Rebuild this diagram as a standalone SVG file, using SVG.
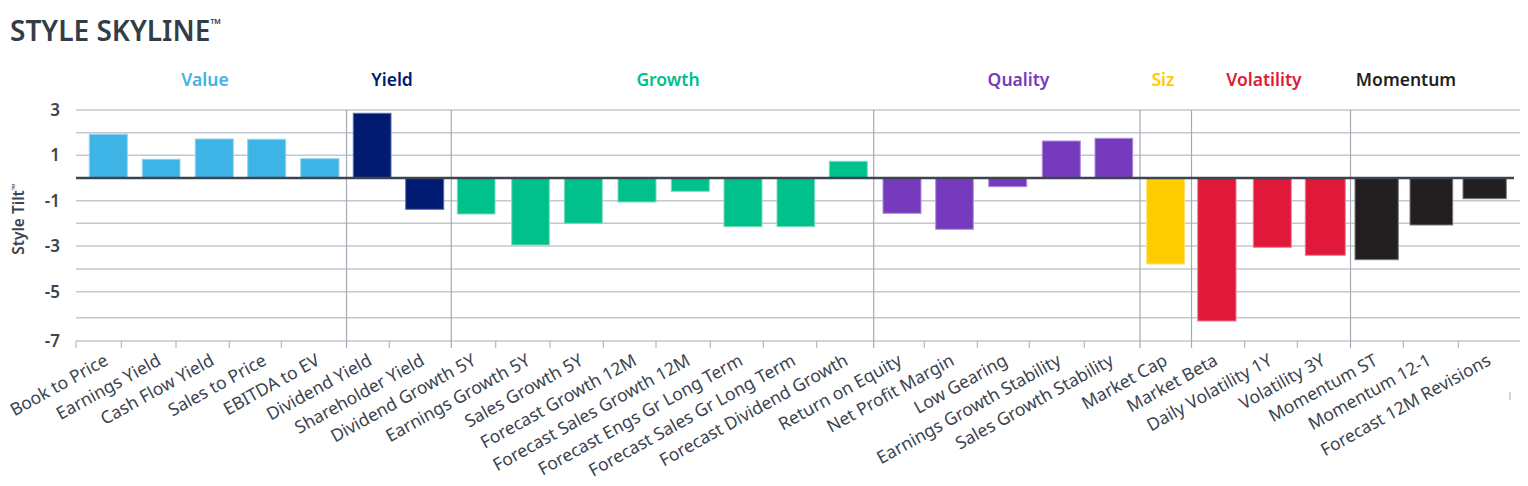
<svg xmlns="http://www.w3.org/2000/svg" width="1528" height="486" viewBox="0 0 1528 486">
<style>
text{font-family:"Noto Sans","Liberation Sans",sans-serif}
.title{font-size:28px;font-weight:600;fill:#333d48}
.head{font-size:17.5px;font-weight:600;text-anchor:middle}
.tick{font-size:17px;font-weight:600;fill:#3b4450;text-anchor:end}
.ylab{font-size:15.5px;font-weight:600;fill:#3b4450;text-anchor:middle}
.lab{font-size:17.5px;fill:#3b4450;text-anchor:end}
.grid{stroke:#c3c8d0;stroke-width:1.4}
.div{stroke:#a3aab4;stroke-width:1.2}
.tk{stroke:#b3b9c2;stroke-width:1.2}
.v{fill:#3db4e5;stroke:#8dd2f0;stroke-width:1}
.y{fill:#001b71;stroke:#5a6aa5;stroke-width:1}
.g{fill:#00c08b;stroke:#7ddcc0;stroke-width:1}
.q{fill:#763bbd;stroke:#b08de0;stroke-width:1}
.s{fill:#ffcc00;stroke:#ffe27a;stroke-width:1}
.r{fill:#e0193a;stroke:#f07d8f;stroke-width:1}
.m{fill:#231f20;stroke:#7c7a7b;stroke-width:1}
</style>
<rect width="1528" height="486" fill="#fff"/>
<text class="title" x="10" y="41">STYLE SKYLINE<tspan font-size="14" dy="-12">™</tspan></text>

<g id="headings">
<text class="head" x="205" y="86" fill="#3db4e5">Value</text>
<text class="head" x="392" y="86" fill="#001b71">Yield</text>
<text class="head" x="668" y="86" fill="#00c08b">Growth</text>
<text class="head" x="1018.5" y="86" fill="#763bbd">Quality</text>
<text class="head" x="1163" y="86" fill="#ffcc00">Siz</text>
<text class="head" x="1264" y="86" fill="#e0193a">Volatility</text>
<text class="head" x="1406" y="86" fill="#231f20">Momentum</text>
</g>

<g id="axis-y">
<text class="ylab" transform="translate(24,219) rotate(-90)">Style Tilt<tspan font-size="9" dy="-6">™</tspan></text>
<text class="tick" x="60" y="116">3</text>
<text class="tick" x="60" y="161.3">1</text>
<text class="tick" x="60" y="206.7">-1</text>
<text class="tick" x="60" y="252">-3</text>
<text class="tick" x="60" y="297.7">-5</text>
<text class="tick" x="60" y="347">-7</text>
</g>

<g id="grid">
<line class="grid" x1="76" y1="110" x2="1520" y2="110"/>
<line class="grid" x1="76" y1="132.7" x2="1520" y2="132.7"/>
<line class="grid" x1="76" y1="155.3" x2="1520" y2="155.3"/>
<line class="grid" x1="76" y1="200.7" x2="1520" y2="200.7"/>
<line class="grid" x1="76" y1="223.3" x2="1520" y2="223.3"/>
<line class="grid" x1="76" y1="246" x2="1520" y2="246"/>
<line class="grid" x1="76" y1="269" x2="1520" y2="269"/>
<line class="grid" x1="76" y1="291.7" x2="1520" y2="291.7"/>
<line class="grid" x1="76" y1="317.7" x2="1520" y2="317.7"/>
<line class="grid" x1="76" y1="341" x2="1520" y2="341"/>
<line class="div" x1="346.5" y1="110" x2="346.5" y2="348"/>
<line class="div" x1="451.3" y1="110" x2="451.3" y2="348"/>
<line class="div" x1="873.7" y1="110" x2="873.7" y2="348"/>
<line class="div" x1="1140" y1="110" x2="1140" y2="348"/>
<line class="div" x1="1191.5" y1="110" x2="1191.5" y2="348"/>
<line class="div" x1="1350.5" y1="110" x2="1350.5" y2="348"/>
<path class="tk" d="M76,341V348M121.3,341V348M176,341V348M229.3,341V348M281.3,341V348M389.3,341V348M495.7,341V348M550,341V348M603.3,341V348M656,341V348M710.3,341V348M763.3,341V348M816.7,341V348M924.3,341V348M977.3,341V348M1029.3,341V348M1084.3,341V348M1244.7,341V348M1297.3,341V348M1403.3,341V348M1458.3,341V348M1510,392V400"/>
</g>

<g id="bars">
<rect class="v" x="89.3" y="134.3" width="38" height="43.7"/>
<rect class="v" x="142.3" y="159.3" width="37.7" height="18.7"/>
<rect class="v" x="195.3" y="139" width="38" height="39"/>
<rect class="v" x="247.7" y="139.3" width="38" height="38.7"/>
<rect class="v" x="300.7" y="158.7" width="38.3" height="19.3"/>
<rect class="y" x="353.3" y="113.3" width="37.7" height="64.7"/>
<rect class="y" x="405.7" y="178" width="38" height="31.3"/>
<rect class="g" x="457.3" y="178" width="37.7" height="36"/>
<rect class="g" x="511.7" y="178" width="37.6" height="67"/>
<rect class="g" x="564.3" y="178" width="38" height="45.3"/>
<rect class="g" x="618" y="178" width="38" height="24"/>
<rect class="g" x="671.3" y="178" width="38" height="13.3"/>
<rect class="g" x="724" y="178" width="38" height="48.7"/>
<rect class="g" x="777" y="178" width="37.7" height="48.7"/>
<rect class="g" x="829.3" y="161.3" width="38" height="16.7"/>
<rect class="q" x="883" y="178" width="38" height="35.3"/>
<rect class="q" x="935.7" y="178" width="37.6" height="51.3"/>
<rect class="q" x="988.7" y="178" width="38" height="8.7"/>
<rect class="q" x="1042.3" y="141" width="38" height="37"/>
<rect class="q" x="1095" y="138.3" width="37.7" height="39.7"/>
<rect class="s" x="1146.7" y="178" width="38" height="86"/>
<rect class="r" x="1197.7" y="178" width="38.3" height="143"/>
<rect class="r" x="1253.3" y="178" width="38" height="69.3"/>
<rect class="r" x="1305.3" y="178" width="40" height="77.3"/>
<rect class="m" x="1355" y="178" width="43.3" height="81.7"/>
<rect class="m" x="1410" y="178" width="42.7" height="47"/>
<rect class="m" x="1463" y="178" width="43.3" height="20.7"/>
<line x1="76" y1="178" x2="1514" y2="178" stroke="#3c454f" stroke-width="2.6"/>
</g>

<g id="labels">
<text class="lab" transform="translate(109.3,364) rotate(-29)">Book to Price</text>
<text class="lab" transform="translate(162.2,364) rotate(-29)">Earnings Yield</text>
<text class="lab" transform="translate(215.3,364) rotate(-29)">Cash Flow Yield</text>
<text class="lab" transform="translate(267.7,364) rotate(-29)">Sales to Price</text>
<text class="lab" transform="translate(320.9,364) rotate(-29)">EBITDA to EV</text>
<text class="lab" transform="translate(373.2,364) rotate(-29)">Dividend Yield</text>
<text class="lab" transform="translate(425.7,364) rotate(-29)">Shareholder Yield</text>
<text class="lab" transform="translate(477.2,364) rotate(-29)">Dividend Growth 5Y</text>
<text class="lab" transform="translate(531.5,364) rotate(-29)">Earnings Growth 5Y</text>
<text class="lab" transform="translate(584.3,364) rotate(-29)">Sales Growth 5Y</text>
<text class="lab" transform="translate(638,364) rotate(-29)">Forecast Growth 12M</text>
<text class="lab" transform="translate(691.3,364) rotate(-29)">Forecast Sales Growth 12M</text>
<text class="lab" transform="translate(744,364) rotate(-29)">Forecast Engs Gr Long Term</text>
<text class="lab" transform="translate(796.9,364) rotate(-29)">Forecast Sales Gr Long Term</text>
<text class="lab" transform="translate(849.3,364) rotate(-29)">Forecast Dividend Growth</text>
<text class="lab" transform="translate(903,364) rotate(-29)">Return on Equity</text>
<text class="lab" transform="translate(955.5,364) rotate(-29)">Net Profit Margin</text>
<text class="lab" transform="translate(1008.7,364) rotate(-29)">Low Gearing</text>
<text class="lab" transform="translate(1062.3,364) rotate(-29)">Earnings Growth Stability</text>
<text class="lab" transform="translate(1114.9,364) rotate(-29)">Sales Growth Stability</text>
<text class="lab" transform="translate(1168.7,364) rotate(-29)">Market Cap</text>
<text class="lab" transform="translate(1218.9,364) rotate(-29)">Market Beta</text>
<text class="lab" transform="translate(1273.3,364) rotate(-29)">Daily Volatility 1Y</text>
<text class="lab" transform="translate(1326.3,364) rotate(-29)">Volatility 3Y</text>
<text class="lab" transform="translate(1378.7,364) rotate(-29)">Momentum ST</text>
<text class="lab" transform="translate(1432.4,364) rotate(-29)">Momentum 12-1</text>
<text class="lab" transform="translate(1492,364) rotate(-29)">Forecast 12M Revisions</text>
</g>
</svg>
